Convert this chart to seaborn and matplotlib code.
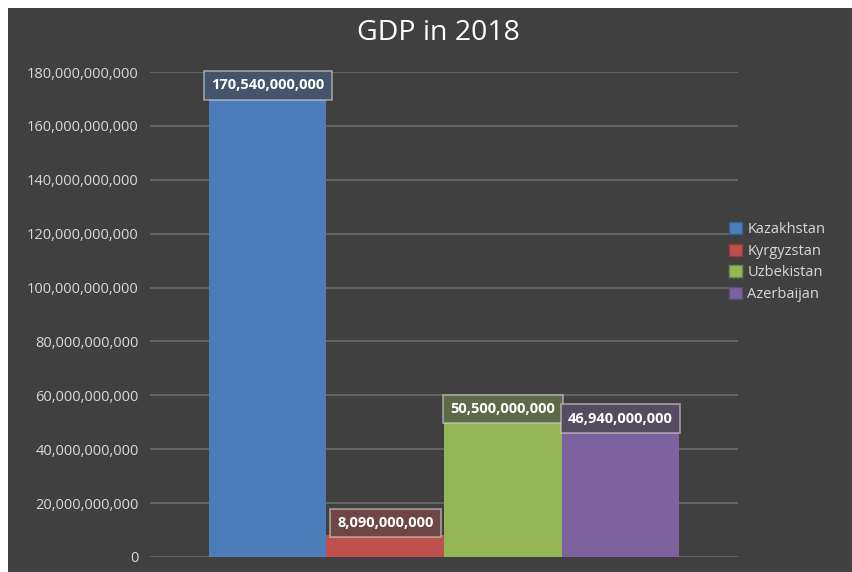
import matplotlib
matplotlib.use("Agg")
import matplotlib.pyplot as plt
import matplotlib.ticker as mticker
from matplotlib.patches import Rectangle
from matplotlib.colors import to_rgb
from matplotlib import font_manager
import seaborn as sns
import pandas as pd

# GDP values for 2018 (US dollars)
countries = ["Kazakhstan", "Kyrgyzstan", "Uzbekistan", "Azerbaijan"]
gdp = [170_540_000_000, 8_090_000_000, 50_500_000_000, 46_940_000_000]
year = ["2018"] * len(countries)
colors = ["#4c7dba", "#c0504d", "#95b657", "#7d62a0"]
y_ticks = [i * 20_000_000_000 for i in range(10)]

BG = "#404040"
GRID = "#676767"
TICK_TXT = "#d9d9d9"

sns.set_theme(style="dark")
installed = {f.name for f in font_manager.fontManager.ttflist}
family = [f for f in ["Liberation Sans Narrow", "Open Sans", "DejaVu Sans"] if f in installed]
plt.rcParams["font.family"] = family

df = pd.DataFrame({"year": year, "country": countries, "gdp": gdp})

fig = plt.figure(figsize=(8.53, 5.72), dpi=100)
fig.patch.set_facecolor("white")
# dark chart area inside a thin white margin (top and left)
fig.patches.append(Rectangle((8 / 853, 0), 1, (572 - 8) / 572,
                             transform=fig.transFigure, facecolor=BG,
                             edgecolor="none", zorder=-10))

ax = fig.add_axes([150 / 853, 15 / 572, (738 - 150) / 853, (557 - 72) / 572])
ax.set_facecolor(BG)
ax.patch.set_alpha(0)

sns.barplot(data=df, x="year", y="gdp", hue="country", hue_order=countries,
            palette=colors, width=0.8, saturation=1, dodge=True,
            edgecolor="none", ax=ax, zorder=3)

ax.set_xlim(-0.5, 0.5)
ax.set_ylim(0, 180_000_000_000)
ax.set_yticks(y_ticks)
ax.yaxis.set_major_formatter(mticker.FuncFormatter(lambda v, p: f"{int(v):,}"))
ax.tick_params(axis="y", length=0, pad=8, labelsize=10.5, labelcolor=TICK_TXT)
ax.set_xticks([])
ax.set_xlabel("")
ax.set_ylabel("")
ax.grid(axis="y", color=GRID, linewidth=1.3, zorder=0)
ax.grid(axis="x", visible=False)
for s in ax.spines.values():
    s.set_visible(False)

# value labels in translucent boxes above each bar
bg_rgb = to_rgb(BG)
for container, col, val in zip(ax.containers, colors, gdp):
    bar = container.patches[0]
    c = to_rgb(col)
    fill = tuple(0.35 * ci + 0.65 * bi for ci, bi in zip(c, bg_rgb))
    ax.annotate(f"{val:,}", xy=(bar.get_x() + bar.get_width() / 2, bar.get_height()),
                xytext=(0, 12), textcoords="offset pixels", ha="center", va="center",
                color="white", fontsize=10.5, fontweight="bold", zorder=5,
                bbox=dict(boxstyle="square,pad=0.5", facecolor=fill,
                          edgecolor=(0.85, 0.85, 0.85, 0.55), linewidth=1.3))

fig.text(438 / 853, 1 - 33 / 572, "GDP in 2018", ha="center", va="center",
         color="white", fontsize=20.5)

handles, labels = ax.get_legend_handles_labels()
leg = ax.legend(handles, labels, loc="upper left",
                bbox_to_anchor=(729 / 853, 1 - 222 / 572),
                bbox_transform=fig.transFigure, frameon=False,
                fontsize=10.5, labelcolor=TICK_TXT, handlelength=0.9,
                handleheight=0.9, handletextpad=0.35, labelspacing=0.45,
                borderaxespad=0, borderpad=0)
for h, col in zip(leg.legend_handles, colors):
    h.set_edgecolor(tuple(0.75 * x for x in to_rgb(col)))
    h.set_linewidth(1)

fig.savefig("out.png", dpi=100, facecolor=fig.get_facecolor())
